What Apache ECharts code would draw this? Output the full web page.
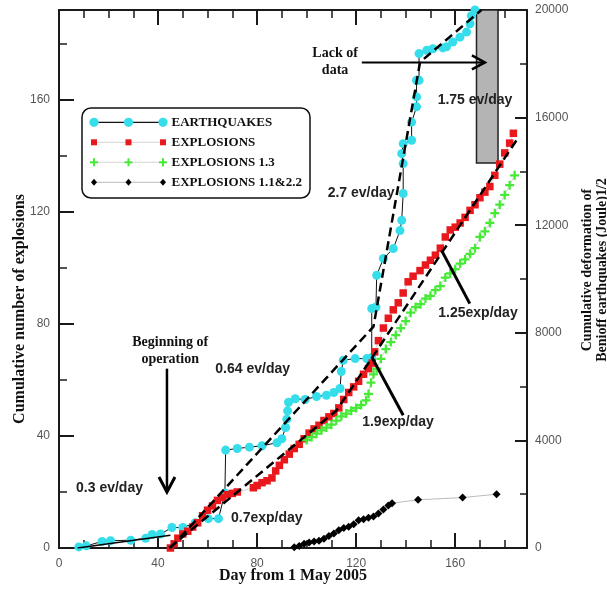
<!DOCTYPE html>
<html>
<head>
<meta charset="utf-8">
<script src="https://cdn.jsdelivr.net/npm/echarts@6/dist/echarts.min.js"></script>
<style>html,body{margin:0;padding:0;background:#fff}#main{width:607px;height:590px}</style>
</head>
<body>
<div id="main"></div>
<script>
// ---------- DATA ----------
const xTickLabels = [0, 40, 80, 120, 160];
const leftTickLabels = [0, 40, 80, 120, 160];
const rightTickLabels = [0, 4000, 8000, 12000, 16000, 20000];

// Earthquakes: [day, cumulative Benioff deformation (Joule)^1/2]  (right axis)
const earthquakes = [
  [8,40],[11,80],[17.4,240],[20.8,270],[29,290],[35,360],[37.6,500],[41,520],[45.6,760],[50,760],
  [55,940],[60.3,1090],[64.4,1090],[67,2040],[67.3,3640],[72,3700],[76.9,3750],[82,3800],[88,3910],[90,4060],
  [91.5,4480],[92,4790],[92.3,5100],[92.7,5420],[95.4,5550],[99.4,5520],[104,5630],[108,5680],[111,5780],[113.5,5930],
  [114,6560],[114.8,6980],[119.6,7040],[124.3,7040],[126.3,7080],[126.3,8900],[128,8960],[128.3,10140],[131,10760],[135,11130],
  [137.7,11800],[138.4,12180],[139,13180],[139,14290],[138.4,14660],[139,15030],[142.4,15160],[142.4,15830],[144.4,16400],[144.4,16770],
  [144.4,17390],[145.4,17390],[145.4,18380],[148.5,18500],[151,18560],[155,18590],[156.5,18630],[159,18810],[161.9,18990],[164.6,19180],
  [166,19490],[166.5,19790],[168,20000]
];
// Explosions: [day, cumulative number]  (left axis)
const explosions = [
  [45,0],[46.5,1.5],[48,3.5],[50,5],[52,6],[54,7.5],[56,9],[58,11.5],[60,13.5],[62,15],
  [64,17],[66,18],[68,19],[70,19.5],[72,20],[78.5,21.5],[80,22.3],[82,23.3],[84,24],[86,25],
  [87.5,27.5],[89,29.5],[91,31.5],[93,33.5],[95,35.5],[97,37],[99,39],[101,41],[103,42.5],[105,43.8],
  [107,45.5],[109,46.8],[111,48],[113,50],[115,53],[117,55.5],[119,57.5],[121,59.5],[123,62],[125,64],
  [126.5,66],[127.5,70],[129,74],[131,78.5],[133,82],[135,85],[137,87.5],[139,91],[141,95],[143,97],
  [145.8,99],[148,101],[150,102.7],[152,104.5],[154,107],[156,111],[158,113.5],[160,114.5],[162,116],[164,118],
  [166,120.5],[168,122.5],[170,125],[172,127],[174,129],[176,133],[178,137],[180,141],[182,144.5],[183.5,148]
];
// Explosions 1.3
const explosions13 = [
  [100,38.5],[102,39.6],[104,40.8],[106,42],[108,43],[110,44],[112,45.5],[114,47],[116,48],[118,49],
  [120,50],[122,51],[124,52.7],[125,55],[126,59],[127,62],[128.3,64],[130,67.5],[132,71],[134,73.5],
  [136,76],[138,78.5],[140,81],[142,84],[144,86],[146,87],[148,89],[150,90],[152,92],[154,93.5],
  [156,96.5],[158,98],[160,99.5],[162,101.5],[164,103],[166,105],[168,107],[170,111],[172,113],[174,116],
  [176,119.5],[178,122.5],[180,126],[182,129.5],[184,133]
];
// Explosions 1.1&2.2
const explosions1122 = [
  [95,0.3],[97,0.7],[99,1.5],[101,2],[103,2.3],[105,2.6],[107,3.3],[109,4.3],[111,5.2],[113,6.3],
  [115,7.1],[117,7.6],[119,8.5],[121,9.9],[123,10.3],[125,10.8],[127,11.2],[129,12.3],[131,13.7],[133,15.2],
  [134.5,16],[145,17.2],[163,18],[176.7,19.2]
];
// Fits
const quakeFit03 = [[7.5,0],[45,470]];                                 // right axis
const quakeFit = [[45,0],[127,8230],[145.8,18060],[170.6,20000]];      // right axis
const explosionFit = [[44.5,0],[112,49],[128,70],[185.5,146.5]];      // left axis
// Lack-of-data window: [dayStart, dayEnd, bottom, top] (right axis)
const gapWindow = [168.6, 177.3, 14310, 20000];

// Annotations (left axis units unless noted)
const rateLabels = [
  ['0.3 ev/day', 20.4, 21.3],
  ['0.64 ev/day', 78.2, 63.8],
  ['0.7exp/day', 83.9, 10.6],
  ['2.7 ev/day', 122, 126.6],
  ['1.75 ev/day', 168, 159.8],
  ['1.9exp/day', 136.9, 44.9],
  ['1.25exp/day', 169.2, 83.7]
];
const notes = [
  ['Lack of\ndata', 111.5, 173.5],
  ['Beginning of\noperation', 44.9, 70.2]
];
const lackArrow = [[122.3, 18050], [172, 18050]];   // right axis
const beginArrow = [[43.6, 64], [43.6, 20]];
const pointer19 = [[126.3, 68.2], [139, 47.4]];
const pointer125 = [[154.5, 106.2], [165.9, 87.2]];

// ---------- STYLE ----------
const CYAN = '#36DEEC', RED = '#E8181C', GREEN = '#45EA35', AX = '#1a1a1a';
const SANS = '"Liberation Sans", Arial, sans-serif';
const SERIF = '"Liberation Serif", "Times New Roman", serif';
const PLUS = 'path://M3,0H5V3H8V5H5V8H3V5H0V3H3Z';

const chart = echarts.init(document.getElementById('main'));

const tickLabelStyle = {fontFamily: SANS, fontSize: 12, color: '#555'};
const titleStyle = {fontFamily: SERIF, fontWeight: 'bold', fontSize: 16, color: '#111'};

function minorAxis(pos, interval, max, len) {
  return {type: 'value', position: pos, min: 0, max: max, interval: interval,
    axisLine: {show: false, onZero: false}, axisLabel: {show: false}, splitLine: {show: false},
    axisTick: {show: true, inside: true, length: len, lineStyle: {color: AX, width: 1.5}}};
}

const option = {
  animation: false,
  backgroundColor: '#fff',
  grid: {left: 59, right: 80, top: 10, bottom: 42, containLabel: false, outerBoundsMode: 'none'},
  xAxis: [
    {type: 'value', position: 'bottom', min: 0, max: 189, interval: 40,
      axisLine: {show: true, onZero: false, lineStyle: {color: AX, width: 2}},
      axisTick: {inside: true, length: 15, lineStyle: {color: AX, width: 2}},
      axisLabel: Object.assign({margin: 10, showMaxLabel: false,
        formatter: v => xTickLabels.indexOf(v) >= 0 ? String(v) : ''}, tickLabelStyle),
      splitLine: {show: false},
      name: 'Day from 1 May 2005', nameLocation: 'middle', nameGap: 20, nameMoveOverlap: false,
      nameTextStyle: titleStyle},
    minorAxis('bottom', 10, 189, 8),
    {type: 'value', position: 'top', min: 0, max: 189, interval: 40,
      axisLine: {show: true, onZero: false, lineStyle: {color: AX, width: 2}},
      axisTick: {inside: true, length: 15, lineStyle: {color: AX, width: 2}},
      axisLabel: {show: false}, splitLine: {show: false}},
    minorAxis('top', 10, 189, 8)
  ],
  yAxis: [
    {type: 'value', position: 'left', min: 0, max: 192, interval: 40,
      axisLine: {show: true, onZero: false, lineStyle: {color: AX, width: 2}},
      axisTick: {inside: true, length: 15, lineStyle: {color: AX, width: 2}},
      axisLabel: Object.assign({margin: 9, showMaxLabel: false,
        formatter: v => leftTickLabels.indexOf(v) >= 0 ? String(v) : ''}, tickLabelStyle),
      splitLine: {show: false},
      name: 'Cumulative number of explosions', nameLocation: 'middle', nameGap: 31, nameRotate: 90,
      nameMoveOverlap: false,
      nameTextStyle: Object.assign({padding: [0, 60, 0, 0]}, titleStyle)},
    {type: 'value', position: 'right', min: 0, max: 20000, interval: 4000,
      axisLine: {show: true, onZero: false, lineStyle: {color: AX, width: 2}},
      axisTick: {inside: true, length: 12, lineStyle: {color: AX, width: 2}},
      minorTick: {show: true, splitNumber: 2, length: 7, lineStyle: {color: AX, width: 1.5}},
      axisLabel: Object.assign({margin: 8,
        formatter: v => rightTickLabels.indexOf(v) >= 0 ? String(v) : ''}, tickLabelStyle),
      splitLine: {show: false},
      name: 'Cumulative deformation of\nBenioff earthquakes (Joule)1/2', nameLocation: 'middle', nameGap: 53, nameRotate: 90,
      nameMoveOverlap: false,
      nameTextStyle: {fontFamily: SERIF, fontWeight: 'bold', fontSize: 14, color: '#111', lineHeight: 15, padding: [0, 0, 0, 18]}},
    minorAxis('left', 20, 192, 8)
  ],
  series: [
    {name: 'EARTHQUAKES', type: 'line', xAxisIndex: 0, yAxisIndex: 1, data: earthquakes,
      symbol: 'circle', symbolSize: 9, itemStyle: {color: CYAN},
      lineStyle: {color: '#111', width: 1}, z: 3,
      markArea: {silent: true, itemStyle: {color: '#b4b4b4', borderColor: '#222', borderWidth: 1.5},
        data: [[{coord: [gapWindow[0], gapWindow[3]]}, {coord: [gapWindow[1], gapWindow[2]]}]]}},
    {name: 'EXPLOSIONS', type: 'line', xAxisIndex: 0, yAxisIndex: 0, data: explosions,
      symbol: 'rect', symbolSize: 7.5, itemStyle: {color: RED},
      lineStyle: {color: '#c8c8c8', width: 0.8}, z: 3},
    {name: 'EXPLOSIONS 1.3', type: 'line', xAxisIndex: 0, yAxisIndex: 0, data: explosions13,
      symbol: PLUS, symbolSize: 9, itemStyle: {color: GREEN},
      lineStyle: {color: '#c8c8c8', width: 0.8}, z: 3},
    {name: 'EXPLOSIONS 1.1&2.2', type: 'line', xAxisIndex: 0, yAxisIndex: 0, data: explosions1122,
      symbol: 'diamond', symbolSize: 8, itemStyle: {color: '#000'},
      lineStyle: {color: '#aaa', width: 0.8}, z: 3},
    {name: 'fit 0.3', type: 'line', xAxisIndex: 0, yAxisIndex: 1, data: quakeFit03,
      symbol: 'none', lineStyle: {color: '#000', width: 1.5}, z: 5},
    {name: 'quake fit', type: 'line', xAxisIndex: 0, yAxisIndex: 1, data: quakeFit,
      symbol: 'none', lineStyle: {color: '#000', width: 2.5, type: [9, 5]}, z: 5},
    {name: 'explosion fit', type: 'line', xAxisIndex: 0, yAxisIndex: 0, data: explosionFit,
      symbol: 'none', lineStyle: {color: '#000', width: 2.5, type: [9, 5]}, z: 5}
  ]
};
chart.setOption(option);

// ---------- ANNOTATIONS & LEGEND ----------
const P = (d, v) => chart.convertToPixel({xAxisIndex: 0, yAxisIndex: 0}, [d, v]);
const PR = (d, r) => chart.convertToPixel({xAxisIndex: 0, yAxisIndex: 1}, [d, r]);
const g = [];
function line(pts, w) {
  g.push({type: 'polyline', z: 60, shape: {points: pts}, style: {stroke: '#000', lineWidth: w, fill: null}});
}
// Lack of data arrow
{
  const a = PR(lackArrow[0][0], lackArrow[0][1]), b = PR(lackArrow[1][0], lackArrow[1][1]);
  line([a, b], 2);
  line([[b[0] - 13, b[1] - 7], b, [b[0] - 13, b[1] + 7]], 2.5);
}
// Beginning of operation arrow
{
  const a = P(beginArrow[0][0], beginArrow[0][1]), b = P(beginArrow[1][0], beginArrow[1][1]);
  line([a, b], 2.5);
  line([[b[0] - 8, b[1] - 15], b, [b[0] + 8, b[1] - 15]], 3);
}
line([P(pointer19[0][0], pointer19[0][1]), P(pointer19[1][0], pointer19[1][1])], 3);
line([P(pointer125[0][0], pointer125[0][1]), P(pointer125[1][0], pointer125[1][1])], 3);

rateLabels.forEach(r => {
  const p = P(r[1], r[2]);
  g.push({type: 'text', z: 70, x: p[0], y: p[1],
    style: {text: r[0], fill: '#222', font: 'bold 14px ' + SANS, align: 'center', verticalAlign: 'middle'}});
});
notes.forEach(n => {
  const p = P(n[1], n[2]);
  g.push({type: 'text', z: 70, x: p[0], y: p[1],
    style: {text: n[0], fill: '#111', font: 'bold 14px ' + SERIF, align: 'center', verticalAlign: 'middle', lineHeight: 17}});
});

// Legend box
g.push({type: 'rect', z: 80, shape: {x: 82, y: 108, width: 228, height: 90, r: 9},
  style: {fill: '#fff', stroke: '#111', lineWidth: 1.5}});
const legendRows = [
  {name: 'EARTHQUAKES', kind: 'circle', color: CYAN, line: '#111', lw: 1.2},
  {name: 'EXPLOSIONS', kind: 'rect', color: RED, line: '#c8c8c8', lw: 0.8},
  {name: 'EXPLOSIONS 1.3', kind: 'plus', color: GREEN, line: '#c8c8c8', lw: 0.8},
  {name: 'EXPLOSIONS 1.1&2.2', kind: 'diamond', color: '#000', line: '#aaa', lw: 0.8}
];
const mx = [94, 128.5, 163];
legendRows.forEach((r, i) => {
  const y = 122.3 + i * 20;
  g.push({type: 'polyline', z: 81, shape: {points: [[mx[0], y], [mx[2], y]]}, style: {stroke: r.line, lineWidth: r.lw, fill: null}});
  mx.forEach(x => {
    if (r.kind === 'circle') g.push({type: 'circle', z: 82, shape: {cx: x, cy: y, r: 4.6}, style: {fill: r.color}});
    else if (r.kind === 'rect') g.push({type: 'rect', z: 82, shape: {x: x - 3, y: y - 3, width: 6, height: 6}, style: {fill: r.color}});
    else if (r.kind === 'plus') {
      g.push({type: 'rect', z: 82, shape: {x: x - 4, y: y - 1, width: 8, height: 2}, style: {fill: r.color}});
      g.push({type: 'rect', z: 82, shape: {x: x - 1, y: y - 4, width: 2, height: 8}, style: {fill: r.color}});
    } else g.push({type: 'polygon', z: 82, shape: {points: [[x, y - 3.5], [x + 3, y], [x, y + 3.5], [x - 3, y]]}, style: {fill: r.color}});
  });
  g.push({type: 'text', z: 82, x: 171.5, y: y,
    style: {text: r.name, fill: '#111', font: 'bold 13px ' + SERIF, align: 'left', verticalAlign: 'middle'}});
});

chart.setOption({graphic: g});
</script>
</body>
</html>
